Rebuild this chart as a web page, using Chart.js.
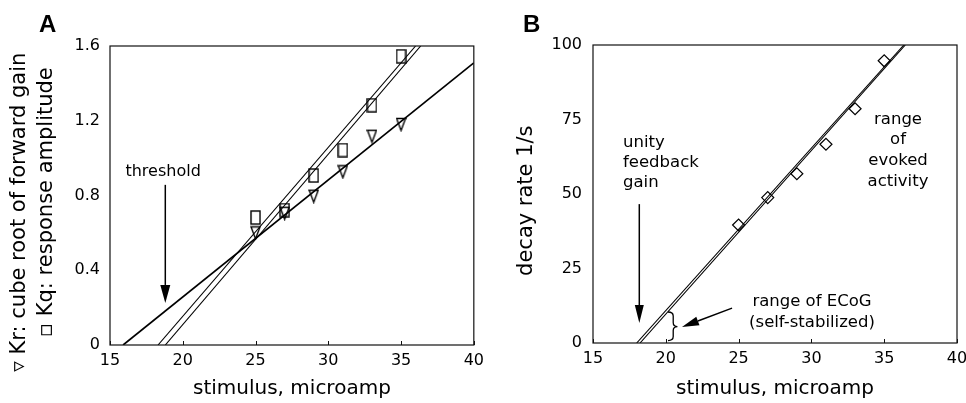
<!DOCTYPE html>
<html>
<head>
<meta charset="utf-8">
<script src="https://cdn.jsdelivr.net/npm/chart.js@4"></script>
<style>
  html, body { margin: 0; padding: 0; background: #fff; overflow: hidden; width: 966px; height: 403px; }
  #wrap { position: relative; width: 966px; height: 403px; overflow: hidden; }
  canvas { position: absolute; top: 0; }
  #cA { left: 0; }
  #cB { left: 480px; }
</style>
</head>
<body>
<div id="wrap">
  <canvas id="cA" width="490" height="403"></canvas>
  <canvas id="cB" width="500" height="403"></canvas>
</div>
<script>
// ---------- DATA ----------
const stimulus = [25, 27, 29, 31, 33, 35];
// Panel A
const krValues = [0.60, 0.705, 0.796, 0.927, 1.117, 1.18];   // cube root of forward gain (triangles)
const kqValues = [0.682, 0.722, 0.907, 1.043, 1.283, 1.545]; // response amplitude (squares)
const krFitX = [15.9, 40];
const krFitY = [0, 1.51];
const kqFit1X = [18.3, 36.0];
const kqFit1Y = [0, 1.6];
const kqFit2X = [18.8, 36.35];
const kqFit2Y = [0, 1.6];
// Panel B
const decayValues = [39.6, 48.8, 56.8, 66.7, 78.6, 94.7];
const decayFit1X = [18.0, 36.35];
const decayFit1Y = [0, 100];
const decayFit2X = [18.23, 36.45];
const decayFit2Y = [0, 100];
// Ticks
const xTicks = [15, 20, 25, 30, 35, 40];
const yTicksA = [0, 0.4, 0.8, 1.2, 1.6];
const yTickLabelsA = ['0', '0.4', '0.8', '1.2', '1.6'];
const yTicksB = [0, 25, 50, 75, 100];
const yTickLabelsB = ['0', '25', '50', '75', '100'];

// ---------- helpers ----------
const FONT = "'DejaVu Sans', 'Verdana', sans-serif";
Chart.defaults.color = '#000';
Chart.defaults.font.family = FONT;

function pts(xs, ys) { return xs.map((x, i) => ({ x: x, y: ys[i] })); }

function markerRect() {
  const c = document.createElement('canvas');
  c.width = 11; c.height = 15;
  const g = c.getContext('2d');
  g.strokeStyle = '#000'; g.lineWidth = 1.4;
  g.strokeRect(1, 1, 9, 13);
  return c;
}
function markerTri() {
  const c = document.createElement('canvas');
  c.width = 11; c.height = 15;
  const g = c.getContext('2d');
  g.strokeStyle = '#000'; g.lineWidth = 1.4; g.lineJoin = 'miter';
  g.beginPath(); g.moveTo(1, 1.5); g.lineTo(10, 1.5); g.lineTo(5.5, 13.5); g.closePath(); g.stroke();
  return c;
}

function arrow(ctx, x1, y1, x2, y2, headLen, headW) {
  const ang = Math.atan2(y2 - y1, x2 - x1);
  const bx = x2 - headLen * Math.cos(ang), by = y2 - headLen * Math.sin(ang);
  ctx.beginPath(); ctx.moveTo(x1, y1); ctx.lineTo(bx, by); ctx.stroke();
  const px = -Math.sin(ang) * headW / 2, py = Math.cos(ang) * headW / 2;
  ctx.beginPath(); ctx.moveTo(x2, y2); ctx.lineTo(bx + px, by + py); ctx.lineTo(bx - px, by - py); ctx.closePath(); ctx.fill();
}

function xAxisOpts(h) {
  return {
    type: 'linear', min: 15, max: 40,
    afterBuildTicks: s => { s.ticks = xTicks.map(v => ({ value: v })); },
    afterFit: s => { s.height = h; },
    grid: { display: false, drawTicks: false },
    border: { display: false },
    ticks: { font: { size: 16 }, padding: 6, maxRotation: 0, autoSkip: false },
    title: { display: true, text: 'stimulus, microamp', font: { size: 20 }, padding: { top: 0, bottom: 2 } }
  };
}

const framePlugin = {
  id: 'frame',
  afterDatasetsDraw(chart) {
    const { ctx, chartArea: a, scales } = chart;
    ctx.save();
    ctx.strokeStyle = '#111'; ctx.lineWidth = 1.2;
    ctx.strokeRect(a.left, a.top, a.right - a.left, a.bottom - a.top);
    ctx.lineWidth = 1;
    xTicks.forEach(v => {
      const px = Math.round(scales.x.getPixelForValue(v)) + 0.5;
      ctx.beginPath(); ctx.moveTo(px, a.bottom); ctx.lineTo(px, a.bottom - 4); ctx.stroke();
    });
    ctx.restore();
  }
};

// ---------- Panel A ----------
const annotA = {
  id: 'annotA',
  afterDraw(chart) {
    const { ctx, scales: { x, y } } = chart;
    ctx.save();
    ctx.fillStyle = '#000'; ctx.strokeStyle = '#000';
    ctx.font = "bold 24px 'Liberation Sans', Arial, sans-serif";
    ctx.textAlign = 'left'; ctx.textBaseline = 'alphabetic';
    ctx.fillText('A', 39, 32);
    ctx.font = '16px ' + FONT;
    ctx.textAlign = 'center';
    ctx.fillText('threshold', x.getPixelForValue(18.65), y.getPixelForValue(0.905));
    ctx.lineWidth = 1.5;
    arrow(ctx, x.getPixelForValue(18.8), y.getPixelForValue(0.857), x.getPixelForValue(18.8), y.getPixelForValue(0.225), 18, 10);
    ctx.restore();
  }
};

new Chart(document.getElementById('cA'), {
  type: 'scatter',
  data: {
    datasets: [
      { label: 'Kr fit', data: pts(krFitX, krFitY), showLine: true, pointRadius: 0, borderColor: '#000', borderWidth: 1.7 },
      { label: 'Kq fit 1', data: pts(kqFit1X, kqFit1Y), showLine: true, pointRadius: 0, borderColor: '#000', borderWidth: 1.1 },
      { label: 'Kq fit 2', data: pts(kqFit2X, kqFit2Y), showLine: true, pointRadius: 0, borderColor: '#000', borderWidth: 1.1 },
      { label: 'Kr', data: pts(stimulus, krValues), pointStyle: markerTri(), pointRadius: 6 },
      { label: 'Kq', data: pts(stimulus, kqValues), pointStyle: markerRect(), pointRadius: 6 }
    ]
  },
  options: {
    responsive: false, animation: false, devicePixelRatio: 1,
    layout: { padding: { top: 46, right: 16, left: 0, bottom: 0 } },
    plugins: { legend: { display: false }, tooltip: { enabled: false } },
    scales: {
      x: xAxisOpts(58),
      y: {
        type: 'linear', min: 0, max: 1.6,
        afterBuildTicks: s => { s.ticks = yTicksA.map(v => ({ value: v })); },
        afterFit: s => { s.width = 110; },
        grid: { display: false, drawTicks: false },
        border: { display: false },
        ticks: { font: { size: 16 }, padding: 10, callback: (v, i) => yTickLabelsA[i] },
        title: {
          display: true,
          text: ['\u25BF Kr: cube root of forward gain\u00A0\u00A0\u00A0\u00A0\u00A0', '\u25AB Kq: response amplitude\u00A0\u00A0'],
          font: { size: 21, lineHeight: 1.3 }, padding: { top: 6, bottom: 0 }
        }
      }
    }
  },
  plugins: [framePlugin, annotA]
});

// ---------- Panel B ----------
const annotB = {
  id: 'annotB',
  afterDraw(chart) {
    const { ctx, scales: { x, y } } = chart;
    ctx.save();
    ctx.fillStyle = '#000'; ctx.strokeStyle = '#000';
    ctx.font = "bold 24px 'Liberation Sans', Arial, sans-serif";
    ctx.textAlign = 'left'; ctx.textBaseline = 'alphabetic';
    ctx.fillText('B', 43, 32);
    ctx.font = '16.5px ' + FONT;
    // unity feedback gain
    const ux = x.getPixelForValue(17.06);
    ctx.fillText('unity', ux, y.getPixelForValue(65.9));
    ctx.fillText('feedback', ux, y.getPixelForValue(59.2));
    ctx.fillText('gain', ux, y.getPixelForValue(52.5));
    ctx.lineWidth = 1.5;
    arrow(ctx, x.getPixelForValue(18.18), y.getPixelForValue(46.6), x.getPixelForValue(18.18), y.getPixelForValue(6.7), 18, 9);
    // range of evoked activity
    ctx.textAlign = 'center';
    const ex = x.getPixelForValue(35.95);
    ctx.fillText('range', ex, y.getPixelForValue(73.5));
    ctx.fillText('of', ex, y.getPixelForValue(66.8));
    ctx.fillText('evoked', ex, y.getPixelForValue(59.7));
    ctx.fillText('activity', ex, y.getPixelForValue(52.7));
    // range of ECoG
    const cx = x.getPixelForValue(30.04);
    ctx.fillText('range of ECoG', cx, y.getPixelForValue(12.4));
    ctx.fillText('(self-stabilized)', cx, y.getPixelForValue(5.4));
    arrow(ctx, x.getPixelForValue(24.55), y.getPixelForValue(11.7), x.getPixelForValue(21.11), y.getPixelForValue(5.37), 17, 9);
    // brace
    const bx0 = x.getPixelForValue(20.15), bx1 = x.getPixelForValue(20.8);
    const yt = y.getPixelForValue(10.4), yb = y.getPixelForValue(0.8), ym = y.getPixelForValue(5.5);
    const bm = (bx0 + bx1) / 2 + 0.5;
    ctx.lineWidth = 1.3;
    ctx.beginPath();
    ctx.moveTo(bx0, yt);
    ctx.quadraticCurveTo(bm, yt, bm, yt + 4);
    ctx.lineTo(bm, ym - 4);
    ctx.quadraticCurveTo(bm, ym, bx1, ym);
    ctx.quadraticCurveTo(bm, ym, bm, ym + 4);
    ctx.lineTo(bm, yb - 4);
    ctx.quadraticCurveTo(bm, yb, bx0, yb);
    ctx.stroke();
    ctx.restore();
  }
};

new Chart(document.getElementById('cB'), {
  type: 'scatter',
  data: {
    datasets: [
      { label: 'fit 1', data: pts(decayFit1X, decayFit1Y), showLine: true, pointRadius: 0, borderColor: '#000', borderWidth: 1.1 },
      { label: 'fit 2', data: pts(decayFit2X, decayFit2Y), showLine: true, pointRadius: 0, borderColor: '#000', borderWidth: 1.1 },
      { label: 'decay rate', data: pts(stimulus, decayValues), pointStyle: 'rectRot', pointRadius: 6, borderColor: '#000', borderWidth: 1.2, backgroundColor: 'rgba(0,0,0,0)' }
    ]
  },
  options: {
    responsive: false, animation: false, devicePixelRatio: 1,
    layout: { padding: { top: 45, right: 23, left: 0, bottom: 0 } },
    plugins: { legend: { display: false }, tooltip: { enabled: false } },
    scales: {
      x: xAxisOpts(60),
      y: {
        type: 'linear', min: 0, max: 100,
        afterBuildTicks: s => { s.ticks = yTicksB.map(v => ({ value: v })); },
        afterFit: s => { s.width = 113; },
        grid: { display: false, drawTicks: false },
        border: { display: false },
        ticks: { font: { size: 16 }, padding: 11, callback: (v, i) => yTickLabelsB[i] },
        title: { display: true, text: 'decay rate 1/s\u00A0\u00A0', font: { size: 21 }, padding: { top: 34, bottom: 0 } }
      }
    }
  },
  plugins: [framePlugin, annotB]
});
</script>
</body>
</html>
